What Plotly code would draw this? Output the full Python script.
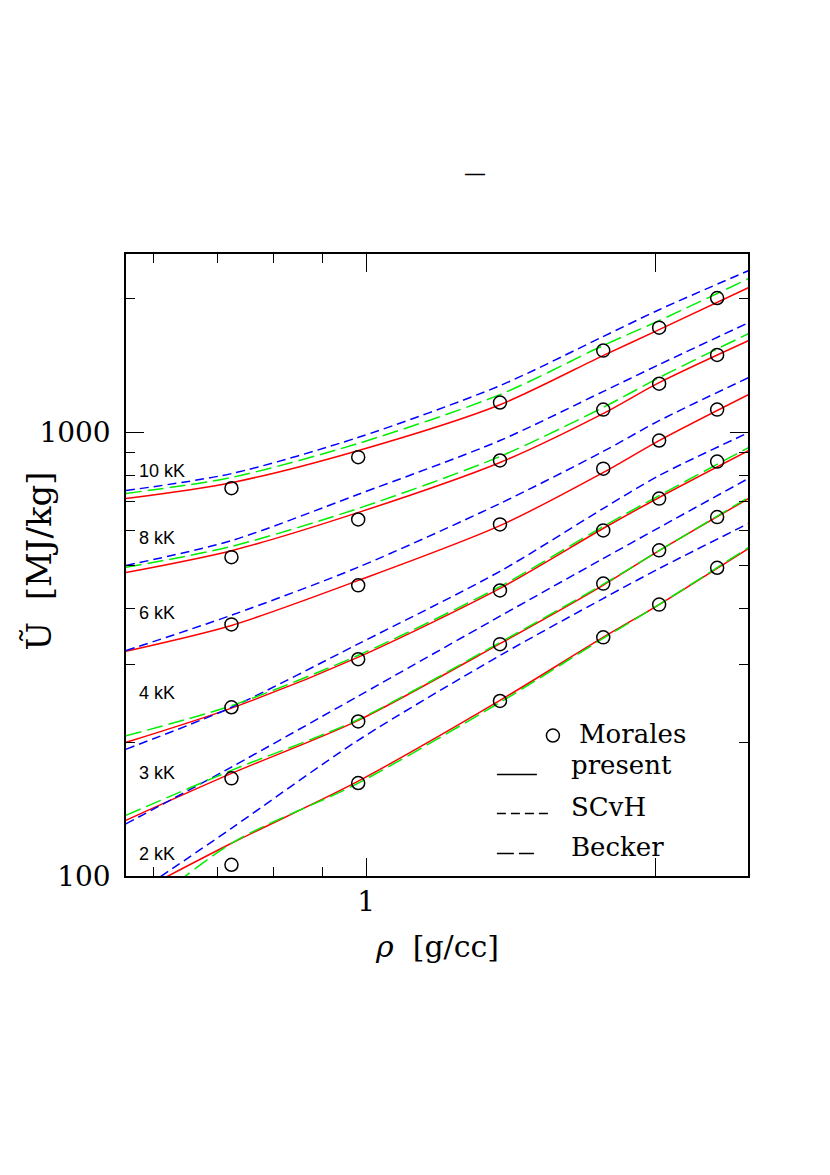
import numpy as np
import plotly.graph_objects as go

# ---------------- data ----------------
# density grid for model isotherms [g/cc]
rho_grid = [0.562, 0.724, 0.980, 1.378, 1.764, 2.018, 2.50]

# present work (red, solid)  U [MJ/kg]
present_10kK = [709, 770, 909, 1154, 1489, 1703, 2118]
present_8kK = [483, 541, 659, 855, 1102, 1294, 1609]
present_6kK = [321, 367, 463, 616, 811, 958, 1216]
present_4kK = [200, 239, 311, 445, 607, 713, 909]
present_3kK = [133.5, 170.3, 224, 334, 452, 541, 709]
present_2kK = [89.1, 118.5, 163.4, 248.7, 344.8, 409, 547]

# SCvH (blue, short dash)
scvh_10kK = [739, 807, 973, 1274, 1643, 1889, 2313]
scvh_8kK = [501, 570, 724, 958, 1235, 1421, 1766]
scvh_6kK = [322, 387, 496, 691, 905, 1062, 1328]
scvh_4kK = [193, 240, 333, 486, 673, 799, 998]
scvh_3kK = [131, 176, 254, 385, 519, 610, 787]
scvh_2kK = [88.2, 128.1, 202, 314, 422, 493, 623]

# Becker (green, long dash)
becker_10kK = [728, 791, 943, 1216, 1568, 1785, 2219]
becker_8kK = [496, 553, 673, 882, 1137, 1328, 1668]
becker_4kK = [207, 242, 314, 449, 613, 720, 924]
becker_3kK = [137, 173, 225, 336, 454, 541, 713]
becker_2kK = [77.8, 118.5, 161.7, 246.2, 343, 409, 550]

# Morales simulation points (open circles)
rho_morales = [0.724, 0.981, 1.378, 1.765, 2.018, 2.319]
morales_10kK = [748, 879, 1167, 1528, 1721, 2007]
morales_8kK = [523, 636, 864, 1125, 1287, 1494]
morales_6kK = [369, 452, 620, 828, 958, 1125]
morales_4kK = [240, 308, 440, 601, 709, 859]
morales_3kK = [166, 223, 333, 456, 542, 644]
morales_2kK = [106, 162, 248, 345, 409, 495]

# isotherm labels and the U value at which they sit
temp_labels = ["10 kK", "8 kK", "6 kK", "4 kK", "3 kK", "2 kK"]
temp_label_u = [820, 577, 391, 259, 171, 112]

# axis ticks
x_major = [1, 2]
x_major_text = ["1", ""]
x_minor = [0.6, 0.7, 0.8, 0.9]
y_major = [100, 1000]
y_major_text = ["100", "1000"]
y_minor = [200, 300, 400, 500, 600, 700, 800, 900, 2000]

# ---------------- figure ----------------
RED = "#ff0000"
BLUE = "#0000ff"
GREEN = "#00ee00"

fig = go.Figure()

for ys in [present_10kK, present_8kK, present_6kK, present_4kK, present_3kK, present_2kK]:
    fig.add_trace(go.Scatter(x=rho_grid, y=ys, mode="lines",
                             line=dict(color=RED, width=1.5, shape="spline", smoothing=0.8),
                             showlegend=False, hoverinfo="skip"))
for ys in [scvh_10kK, scvh_8kK, scvh_6kK, scvh_4kK, scvh_3kK, scvh_2kK]:
    fig.add_trace(go.Scatter(x=rho_grid, y=ys, mode="lines",
                             line=dict(color=BLUE, width=1.5, dash="9px,5px",
                                       shape="spline", smoothing=0.8),
                             showlegend=False, hoverinfo="skip"))
for ys in [becker_10kK, becker_8kK, becker_4kK, becker_3kK, becker_2kK]:
    fig.add_trace(go.Scatter(x=rho_grid, y=ys, mode="lines",
                             line=dict(color=GREEN, width=1.5, dash="16px,6px",
                                       shape="spline", smoothing=0.8),
                             showlegend=False, hoverinfo="skip"))
for ys in [morales_10kK, morales_8kK, morales_6kK, morales_4kK, morales_3kK, morales_2kK]:
    fig.add_trace(go.Scatter(x=rho_morales, y=ys, mode="markers",
                             marker=dict(symbol="circle-open", size=13, color="black",
                                         line=dict(width=1.5, color="black")),
                             showlegend=False, hoverinfo="skip"))

SERIF = "DejaVu Serif"
SANS = "Liberation Sans"

axis_common = dict(
    showline=True, linecolor="black", linewidth=1.5, mirror="allticks",
    ticks="inside", ticklen=18, tickwidth=1.2, tickcolor="black",
    showgrid=False, zeroline=False,
    tickfont=dict(family=SERIF, size=28, color="black"),
)

fig.update_xaxes(
    type="log", range=[np.log10(0.5623), np.log10(2.497)],
    tickmode="array", tickvals=x_major, ticktext=x_major_text,
    minor=dict(tickmode="array", tickvals=x_minor, ticks="inside", ticklen=9,
               tickwidth=1.2, tickcolor="black", showgrid=False),
    **axis_common,
)
fig.update_yaxes(
    type="log", range=[2, 3.4018],
    tickmode="array", tickvals=y_major, ticktext=y_major_text,
    ticklabelstandoff=8,
    minor=dict(tickmode="array", tickvals=y_minor, ticks="inside", ticklen=9,
               tickwidth=1.2, tickcolor="black", showgrid=False),
    **axis_common,
)

annotations = []
# isotherm labels
for lab, u in zip(temp_labels, temp_label_u):
    annotations.append(dict(text=lab, xref="paper", x=0.018, xanchor="left",
                            yref="y", y=np.log10(u), yanchor="middle",
                            showarrow=False,
                            font=dict(family=SANS, size=18, color="black")))
# axis titles
annotations.append(dict(text="<i>ρ</i>\u00a0\u00a0[g/cc]", xref="paper", yref="paper",
                        x=0.5, y=-0.1133, xanchor="center", yanchor="middle",
                        showarrow=False, font=dict(family=SERIF, size=30, color="black")))
annotations.append(dict(text="Ũ\u00a0\u00a0[MJ/kg]", xref="paper", yref="paper",
                        x=-0.1399, y=0.5072, xanchor="center", yanchor="middle",
                        textangle=-90, showarrow=False,
                        font=dict(family=SERIF, size=34, color="black")))
# title dash
annotations.append(dict(text="—", xref="paper", yref="paper", x=0.561, y=1.1294,
                        xanchor="center", yanchor="middle", showarrow=False,
                        font=dict(family=SERIF, size=22, color="black")))
# legend text
legend_labels = ["Morales", "present", "SCvH", "Becker"]
legend_x = [0.725, 0.712, 0.712, 0.712]
legend_y = [0.2275, 0.1777, 0.1117, 0.0474]
for t, lx, ly in zip(legend_labels, legend_x, legend_y):
    annotations.append(dict(text=t, xref="paper", yref="paper", x=lx, y=ly,
                            xanchor="left", yanchor="middle", showarrow=False,
                            font=dict(family=SERIF, size=26, color="black")))

shapes = [
    dict(type="circle", xref="paper", yref="paper", x0=0.6759, x1=0.6968,
         y0=0.2154, y1=0.2363, line=dict(color="black", width=1.5)),
    dict(type="line", xref="paper", yref="paper", x0=0.5963, x1=0.6606,
         y0=0.1632, y1=0.1632, line=dict(color="black", width=1.3)),
    dict(type="line", xref="paper", yref="paper", x0=0.5963, x1=0.6831,
         y0=0.1005, y1=0.1005, line=dict(color="black", width=1.3, dash="9px,5px")),
    dict(type="line", xref="paper", yref="paper", x0=0.5963, x1=0.6558,
         y0=0.0362, y1=0.0362, line=dict(color="black", width=1.3, dash="17px,5px")),
]

fig.update_layout(
    width=830, height=1175,
    margin=dict(l=118, r=90, t=246, b=307),
    paper_bgcolor="white", plot_bgcolor="white",
    showlegend=False,
    annotations=annotations, shapes=shapes,
)

fig.write_html("out.html")
